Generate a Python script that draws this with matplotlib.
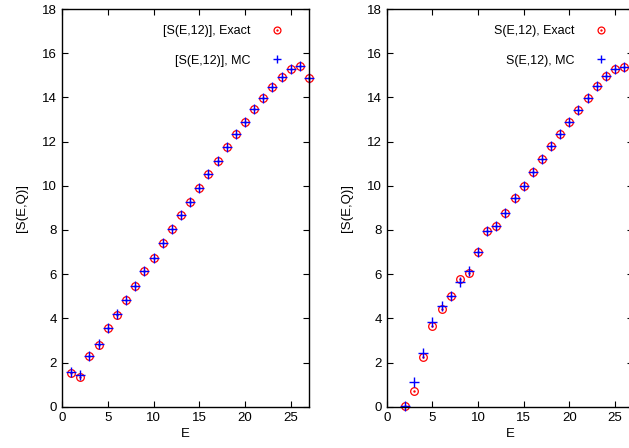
import matplotlib
matplotlib.use("Agg")
import matplotlib.pyplot as plt
from matplotlib.legend_handler import HandlerTuple

plt.rcParams['font.family'] = ['Liberation Sans', 'DejaVu Sans']
plt.rcParams['font.size'] = 9.5

# %%
# data
E_left = list(range(1, 28))
exact_left = [1.51, 1.36, 2.28, 2.81, 3.58, 4.17, 4.82, 5.45, 6.13, 6.75,
              7.41, 8.03, 8.66, 9.28, 9.91, 10.53, 11.14, 11.74, 12.33, 12.89,
              13.46, 13.99, 14.49, 14.94, 15.30, 15.44, 14.87]
mc_left = [1.57, 1.45, 2.29, 2.82, 3.58, 4.18, 4.83, 5.45, 6.13, 6.75,
           7.41, 8.03, 8.66, 9.28, 9.91, 10.53, 11.14, 11.74, 12.33, 12.89,
           13.46, 13.99, 14.49, 14.94, 15.30, 15.44, 14.87]

E_right = list(range(2, 27))
exact_right = [0.03, 0.70, 2.25, 3.64, 4.41, 5.03, 5.79, 6.04, 7.00, 7.94,
               8.17, 8.77, 9.44, 10.00, 10.61, 11.21, 11.79, 12.33, 12.87, 13.42,
               13.99, 14.52, 14.96, 15.29, 15.39]
mc_right = [0.03, 1.12, 2.42, 3.82, 4.56, 5.03, 5.63, 6.14, 7.00, 7.94,
            8.17, 8.77, 9.44, 10.00, 10.61, 11.21, 11.79, 12.33, 12.87, 13.42,
            13.99, 14.52, 14.96, 15.29, 15.39]

xticks = [0, 5, 10, 15, 20, 25]
yticks = [0, 2, 4, 6, 8, 10, 12, 14, 16, 18]

# %%
fig = plt.figure(figsize=(6.29, 4.48), dpi=100)
ax1 = fig.add_axes([0.0986, 0.0922, 0.3927, 0.8877])
ax2 = fig.add_axes([0.6148, 0.0922, 0.3920, 0.8877])


def panel(ax, E, exact, mc, lab):
    c1, = ax.plot(E, exact, 'o', ms=5.5, mfc='none', mec='red', mew=0.9, clip_on=False)
    c2, = ax.plot(E, exact, '.', ms=1.5, color='red', clip_on=False)
    p, = ax.plot(E, mc, '+', ms=6.5, color='blue', mew=1.0, clip_on=False)
    ax.set_xlim(0, 27)
    ax.set_ylim(0, 18)
    ax.set_xticks(xticks)
    ax.set_yticks(yticks)
    ax.tick_params(direction='in', top=True, right=True, length=4, width=0.8)
    for s in ax.spines.values():
        s.set_linewidth(1.0)
    ax.set_xlabel("E", labelpad=3)
    ax.set_ylabel("[S(E,Q)]", labelpad=10)
    ax.legend([(c1, c2), p], [lab + ", Exact", lab + ", MC"],
              handler_map={tuple: HandlerTuple(ndivide=1)},
              loc='upper right', bbox_to_anchor=(0.94, 0.988),
              frameon=False, markerfirst=False, handlelength=1.0,
              labelspacing=1.4, handletextpad=1.6, fontsize=9,
              markerscale=0.9)


panel(ax1, E_left, exact_left, mc_left, "[S(E,12)]")
panel(ax2, E_right, exact_right, mc_right, "S(E,12)")

fig.savefig("out.png", dpi=100)
